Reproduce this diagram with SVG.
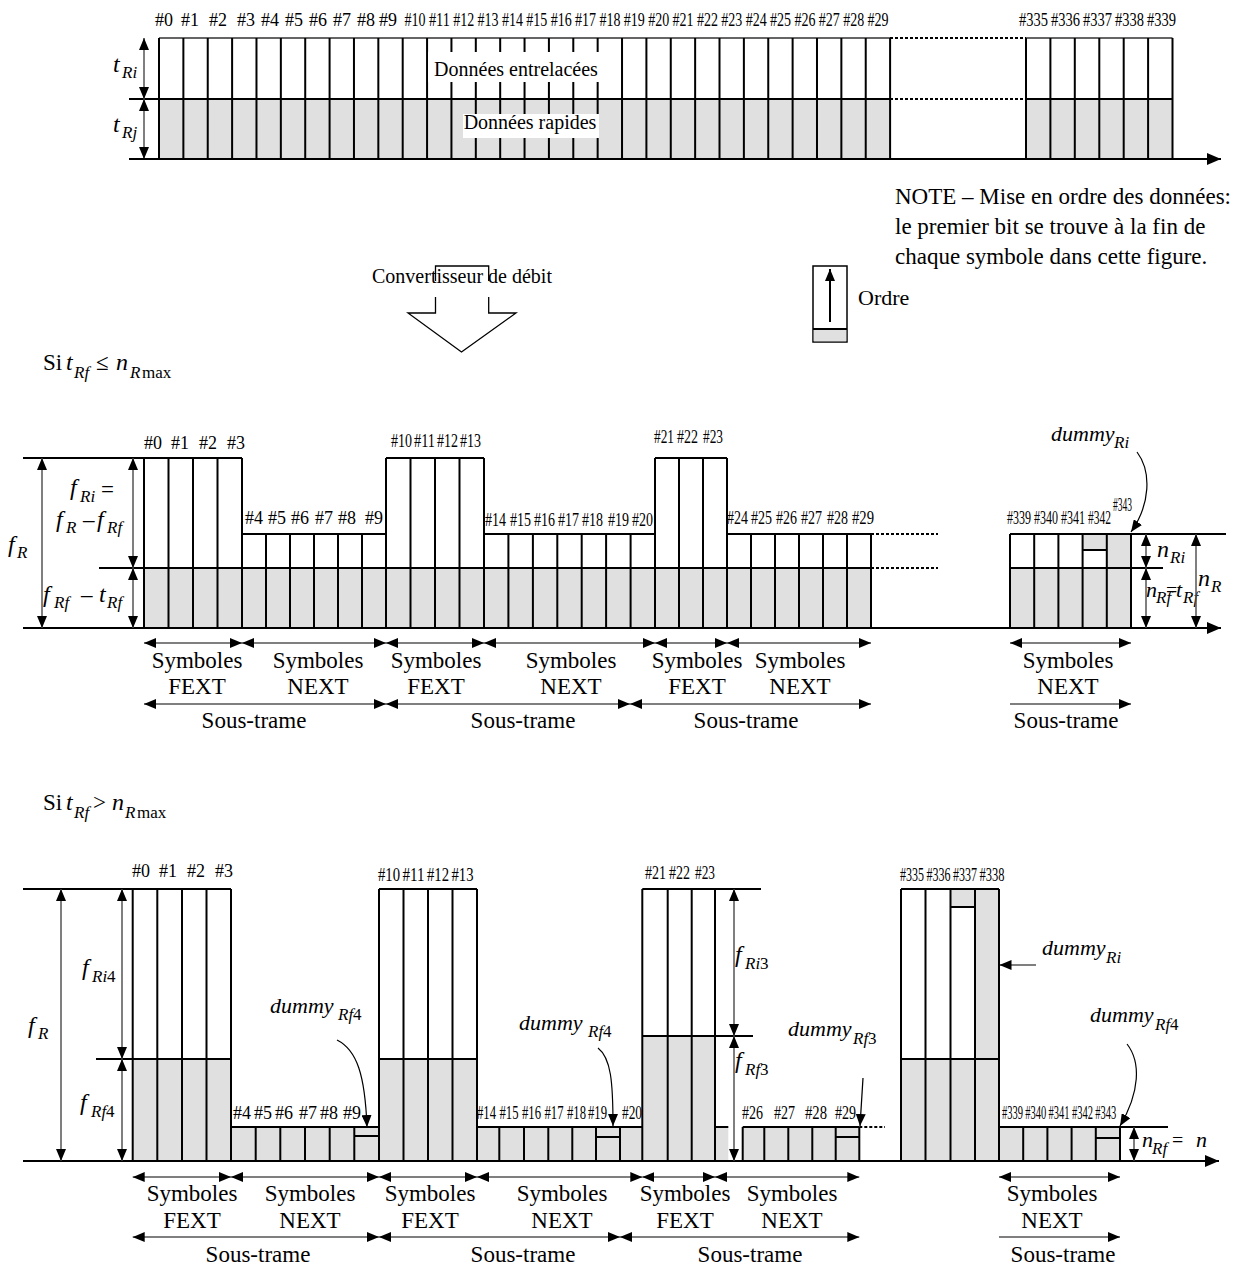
<svg xmlns="http://www.w3.org/2000/svg" width="1253" height="1269" viewBox="0 0 1253 1269">
<defs>
<style>
text{font-family:"Liberation Serif","Times New Roman",serif;fill:#000}
.n18{font-size:18px}
.n20{font-size:20px}
.n23{font-size:23px}
.i24{font-size:24px;font-style:italic}
.i22{font-size:22px;font-style:italic}
.i17{font-size:17px;font-style:italic}
.n17{font-size:17px}
.m{text-anchor:middle}
.col{stroke:#000;stroke-width:2;fill:none}
.top{stroke:#333;stroke-width:1.4;fill:none}
.dim{stroke:#555;stroke-width:1.5;fill:none}
.dot{stroke:#000;stroke-width:2;stroke-dasharray:3 2;fill:none}
.cv{stroke:#000;stroke-width:1.2;fill:none}
.g{fill:#e0e0e0}
</style>
<marker id="a" viewBox="0 0 12 10" refX="12" refY="5" markerWidth="12" markerHeight="10" markerUnits="userSpaceOnUse" orient="auto-start-reverse"><path d="M0,0L12,5L0,10Z" fill="#000"/></marker>
<marker id="A" viewBox="0 0 14 12" refX="14" refY="6" markerWidth="14" markerHeight="12" markerUnits="userSpaceOnUse" orient="auto-start-reverse"><path d="M0,0L14,6L0,12Z" fill="#000"/></marker>
</defs>
<rect width="1253" height="1269" fill="#fff"/>

<!-- ================= TOP SECTION ================= -->
<g id="top-frame">
<rect class="g" x="159" y="99" width="731" height="60"/>
<rect class="g" x="1026" y="99" width="146.5" height="60"/>
<path class="top" d="M159,38H890M1026,38H1172.5"/>
<path class="col" d="M129,99H890M1026,99H1172.5"/>
<path class="dot" d="M890,38H1026M890,99H1026"/>
<path class="col" d="M159,38V159M183.37,38V159M207.74,38V159M232.11,38V159M256.48,38V159M280.85,38V159M305.22,38V159M329.59,38V159M353.96,38V159M378.33,38V159M402.7,38V159M427.07,38V159M451.44,38V159M475.81,38V159M500.18,38V159M524.55,38V159M548.92,38V159M573.29,38V159M597.66,38V159M622.03,38V159M646.4,38V159M670.77,38V159M695.14,38V159M719.51,38V159M743.88,38V159M768.25,38V159M792.62,38V159M816.99,38V159M841.36,38V159M865.73,38V159M890.1,38V159"/>
<path class="col" d="M1026,38V159M1050.4,38V159M1074.8,38V159M1099.3,38V159M1123.7,38V159M1148.1,38V159M1172.5,38V159"/>
<rect x="428" y="52" width="172" height="30" fill="#fff"/>
<rect x="463" y="114" width="136" height="24" fill="#fff"/>
<text class="n20 m" x="516" y="76">Données entrelacées</text>
<text class="n20 m" x="530" y="129">Données rapides</text>
</g>
<g id="top-labels" class="n18">
<text class="m" x="164" y="26">#0</text><text class="m" x="190" y="26">#1</text><text class="m" x="218" y="26">#2</text><text class="m" x="246" y="26">#3</text><text class="m" x="270" y="26">#4</text><text class="m" x="294" y="26">#5</text><text class="m" x="318" y="26">#6</text><text class="m" x="342" y="26">#7</text><text class="m" x="366" y="26">#8</text><text class="m" x="388" y="26">#9</text>
<text x="404.5" y="26" textLength="21" lengthAdjust="spacingAndGlyphs">#10</text>
<text x="428.9" y="26" textLength="21" lengthAdjust="spacingAndGlyphs">#11</text>
<text x="453.2" y="26" textLength="21" lengthAdjust="spacingAndGlyphs">#12</text>
<text x="477.6" y="26" textLength="21" lengthAdjust="spacingAndGlyphs">#13</text>
<text x="502" y="26" textLength="21" lengthAdjust="spacingAndGlyphs">#14</text>
<text x="526.3" y="26" textLength="21" lengthAdjust="spacingAndGlyphs">#15</text>
<text x="550.7" y="26" textLength="21" lengthAdjust="spacingAndGlyphs">#16</text>
<text x="575.1" y="26" textLength="21" lengthAdjust="spacingAndGlyphs">#17</text>
<text x="599.5" y="26" textLength="21" lengthAdjust="spacingAndGlyphs">#18</text>
<text x="623.8" y="26" textLength="21" lengthAdjust="spacingAndGlyphs">#19</text>
<text x="648.2" y="26" textLength="21" lengthAdjust="spacingAndGlyphs">#20</text>
<text x="672.6" y="26" textLength="21" lengthAdjust="spacingAndGlyphs">#21</text>
<text x="696.9" y="26" textLength="21" lengthAdjust="spacingAndGlyphs">#22</text>
<text x="721.3" y="26" textLength="21" lengthAdjust="spacingAndGlyphs">#23</text>
<text x="745.7" y="26" textLength="21" lengthAdjust="spacingAndGlyphs">#24</text>
<text x="770" y="26" textLength="21" lengthAdjust="spacingAndGlyphs">#25</text>
<text x="794.4" y="26" textLength="21" lengthAdjust="spacingAndGlyphs">#26</text>
<text x="818.8" y="26" textLength="21" lengthAdjust="spacingAndGlyphs">#27</text>
<text x="843.2" y="26" textLength="21" lengthAdjust="spacingAndGlyphs">#28</text>
<text x="867.5" y="26" textLength="21" lengthAdjust="spacingAndGlyphs">#29</text>
<text x="1019" y="26" textLength="29" lengthAdjust="spacingAndGlyphs">#335</text>
<text x="1051" y="26" textLength="29" lengthAdjust="spacingAndGlyphs">#336</text>
<text x="1083" y="26" textLength="29" lengthAdjust="spacingAndGlyphs">#337</text>
<text x="1115" y="26" textLength="29" lengthAdjust="spacingAndGlyphs">#338</text>
<text x="1147" y="26" textLength="29" lengthAdjust="spacingAndGlyphs">#339</text>
</g>
<g id="top-dims">
<text class="i24" x="113" y="72">t</text><text class="i17" x="122" y="78">Ri</text>
<text class="i24" x="113" y="132">t</text><text class="i17" x="122" y="138">Rj</text>
</g>

<!-- ================= MIDDLE NOTE / CONVERTER ================= -->
<g id="note">
<text class="n23" x="895" y="204">NOTE – Mise en ordre des données:</text>
<text class="n23" x="895" y="234">le premier bit se trouve à la fin de</text>
<text class="n23" x="895" y="264">chaque symbole dans cette figure.</text>
</g>
<g id="ordre">
<rect x="813" y="266" width="34" height="76" fill="#fff" stroke="#000" stroke-width="1.5"/>
<rect class="g" x="813.7" y="329" width="32.6" height="12.3"/>
<path class="col" d="M813,329H847"/>
<path d="M830,322V269" stroke="#000" stroke-width="2" marker-end="url(#a)"/>
<text class="n23" x="858" y="305" style="font-size:22px">Ordre</text>
</g>
<g id="converter">
<path d="M435.5,281V266H488.7V281M435.5,297V313H408L461.5,352L516,313H488.7V297" fill="none" stroke="#000" stroke-width="1.3"/>
<text class="n20 m" x="462" y="283">Convertisseur de débit</text>
</g>

<!-- ================= SECTION 2 ================= -->
<g id="cond1">
<text class="n23" x="43" y="370">Si</text>
<text class="i24" x="66" y="370">t</text><text class="i17" x="74" y="378">Rf</text>
<text class="n23" x="96" y="370">≤</text>
<text class="i24" x="116" y="370">n</text><text class="i17" x="130" y="378">R</text><text class="n17" x="142" y="378">max</text>
</g>
<g id="s2-blocks">
<rect class="g" x="144" y="568" width="727" height="60"/>
<rect class="g" x="1010" y="568" width="121" height="60"/>
<rect class="g" x="1082.6" y="534" width="24.2" height="16"/>
<rect class="g" x="1106.8" y="534" width="24.2" height="34"/>
<path class="col" d="M144,458V628M168.5,458V628M193,458V628M217.5,458V628M242,458V628M386,458V628M410.5,458V628M435,458V628M459.5,458V628M484,458V628M655,458V628M679,458V628M703,458V628M727,458V628"/>
<path class="col" d="M266,534V628M290,534V628M314,534V628M338,534V628M362,534V628M508.4,534V628M532.9,534V628M557.3,534V628M581.7,534V628M606.1,534V628M630.6,534V628M751,534V628M775,534V628M799,534V628M823,534V628M847,534V628M871,534V628M1010,534V628M1034.2,534V628M1058.4,534V628M1082.6,534V628M1106.8,534V628M1131,534V628"/>
<path class="col" d="M23,458H242M386,458H484M655,458H727M242,534H386M484,534H655M727,534H871M1010,534H1226M99,568H871M1010,568H1163M1082.6,550H1106.8"/>
<path class="dot" d="M871,534H938M871,568H938"/>
<path class="col" d="M23,628H1221" marker-end="url(#A)"/>
</g>
<g id="s2-labels" class="n18">
<text class="m" x="153" y="449">#0</text><text class="m" x="180" y="449">#1</text><text class="m" x="208" y="449">#2</text><text class="m" x="236" y="449">#3</text>
<text class="m" x="254" y="524">#4</text><text class="m" x="277" y="524">#5</text><text class="m" x="300" y="524">#6</text><text class="m" x="324" y="524">#7</text><text class="m" x="347" y="524">#8</text><text class="m" x="374" y="524">#9</text>
<text x="391" y="447" textLength="21" lengthAdjust="spacingAndGlyphs">#10</text>
<text x="414" y="447" textLength="21" lengthAdjust="spacingAndGlyphs">#11</text>
<text x="437" y="447" textLength="21" lengthAdjust="spacingAndGlyphs">#12</text>
<text x="460" y="447" textLength="21" lengthAdjust="spacingAndGlyphs">#13</text>
<text x="485" y="526" textLength="21" lengthAdjust="spacingAndGlyphs">#14</text>
<text x="510" y="526" textLength="21" lengthAdjust="spacingAndGlyphs">#15</text>
<text x="534" y="526" textLength="21" lengthAdjust="spacingAndGlyphs">#16</text>
<text x="558" y="526" textLength="21" lengthAdjust="spacingAndGlyphs">#17</text>
<text x="582" y="526" textLength="21" lengthAdjust="spacingAndGlyphs">#18</text>
<text x="608" y="526" textLength="21" lengthAdjust="spacingAndGlyphs">#19</text>
<text x="632" y="526" textLength="21" lengthAdjust="spacingAndGlyphs">#20</text>
<text x="654" y="443" textLength="20" lengthAdjust="spacingAndGlyphs">#21</text>
<text x="677" y="443" textLength="21" lengthAdjust="spacingAndGlyphs">#22</text>
<text x="703" y="443" textLength="20" lengthAdjust="spacingAndGlyphs">#23</text>
<text x="727" y="524" textLength="21" lengthAdjust="spacingAndGlyphs">#24</text>
<text x="751" y="524" textLength="21" lengthAdjust="spacingAndGlyphs">#25</text>
<text x="776" y="524" textLength="21" lengthAdjust="spacingAndGlyphs">#26</text>
<text x="801" y="524" textLength="21" lengthAdjust="spacingAndGlyphs">#27</text>
<text x="827" y="524" textLength="21" lengthAdjust="spacingAndGlyphs">#28</text>
<text x="852" y="524" textLength="22" lengthAdjust="spacingAndGlyphs">#29</text>
<text x="1007" y="524" textLength="24" lengthAdjust="spacingAndGlyphs">#339</text>
<text x="1034" y="524" textLength="24" lengthAdjust="spacingAndGlyphs">#340</text>
<text x="1061" y="524" textLength="24" lengthAdjust="spacingAndGlyphs">#341</text>
<text x="1088" y="524" textLength="23" lengthAdjust="spacingAndGlyphs">#342</text>
<text x="1113" y="511" textLength="19" lengthAdjust="spacingAndGlyphs">#343</text>
</g>
<g id="s2-dims">
<text class="i24" x="8" y="552">f</text><text class="i17" x="17" y="558">R</text>
<text class="i24" x="70" y="495">f</text><text class="i17" x="80" y="502">Ri</text><text class="n23" x="101" y="497">=</text>
<text class="i24" x="56" y="527">f</text><text class="i17" x="66" y="533">R</text><text class="n23" x="83" y="527">–</text><text class="i24" x="97" y="527">f</text><text class="i17" x="107" y="533">Rf</text>
<text class="i24" x="43" y="602">f</text><text class="i17" x="54" y="608">Rf</text><text class="n23" x="81" y="602">–</text><text class="i24" x="99" y="602">t</text><text class="i17" x="107" y="608">Rf</text>
<text class="i22" x="1051" y="441">dummy</text><text class="i17" x="1114" y="448">Ri</text>
<text class="i24" x="1157" y="557">n</text><text class="i17" x="1170" y="563">Ri</text>
<text class="i24" x="1198" y="586">n</text><text class="i17" x="1211" y="592">R</text>
<text class="i22" x="1146" y="597">n</text><text class="i17" x="1156" y="603">Rf</text><text class="n20" x="1166" y="597">=</text><text class="i22" x="1176" y="597">t</text><text class="i17" x="1183" y="603">Rf</text>
</g>
<g id="s2-connectors">
<path class="dim" d="M42,458V628" marker-start="url(#a)" marker-end="url(#a)"/>
<path class="dim" d="M133,458V568" marker-start="url(#a)" marker-end="url(#a)"/>
<path class="dim" d="M133,568V628" marker-start="url(#a)" marker-end="url(#a)"/>
<path class="dim" d="M1146,534V568" marker-start="url(#a)" marker-end="url(#a)"/>
<path class="dim" d="M1146,568V628" marker-start="url(#a)" marker-end="url(#a)"/>
<path class="dim" d="M1196,534V628" marker-start="url(#a)" marker-end="url(#a)"/>
<path class="cv" d="M1137,452C1152,472 1150,505 1131,532" marker-end="url(#a)"/>
<path class="dim" d="M144,643H242" marker-start="url(#a)" marker-end="url(#a)"/>
<path class="dim" d="M242,643H386" marker-start="url(#a)" marker-end="url(#a)"/>
<path class="dim" d="M386,643H484" marker-start="url(#a)" marker-end="url(#a)"/>
<path class="dim" d="M484,643H655" marker-start="url(#a)" marker-end="url(#a)"/>
<path class="dim" d="M655,643H727" marker-start="url(#a)" marker-end="url(#a)"/>
<path class="dim" d="M727,643H871" marker-start="url(#a)" marker-end="url(#a)"/>
<path class="dim" d="M1010,643H1131" marker-start="url(#a)" marker-end="url(#a)"/>
<path class="dim" d="M144,704H386" marker-start="url(#a)" marker-end="url(#a)"/>
<path class="dim" d="M386,704H630" marker-start="url(#a)" marker-end="url(#a)"/>
<path class="dim" d="M630,704H871" marker-start="url(#a)" marker-end="url(#a)"/>
<path class="dim" d="M1010,704H1131" marker-end="url(#a)"/>
</g>
<g id="s2-captions" class="n23 m">
<text x="197" y="668">Symboles</text><text x="197" y="694">FEXT</text>
<text x="318" y="668">Symboles</text><text x="318" y="694">NEXT</text>
<text x="436" y="668">Symboles</text><text x="436" y="694">FEXT</text>
<text x="571" y="668">Symboles</text><text x="571" y="694">NEXT</text>
<text x="697" y="668">Symboles</text><text x="697" y="694">FEXT</text>
<text x="800" y="668">Symboles</text><text x="800" y="694">NEXT</text>
<text x="1068" y="668">Symboles</text><text x="1068" y="694">NEXT</text>
<text x="254" y="728">Sous-trame</text>
<text x="523" y="728">Sous-trame</text>
<text x="746" y="728">Sous-trame</text>
<text x="1066" y="728">Sous-trame</text>
</g>

<!-- ================= SECTION 3 ================= -->
<g id="cond2">
<text class="n23" x="43" y="810">Si</text>
<text class="i24" x="66" y="810">t</text><text class="i17" x="74" y="818">Rf</text>
<text class="n23" x="93" y="810">&gt;</text>
<text class="i24" x="112" y="810">n</text><text class="i17" x="125" y="818">R</text><text class="n17" x="137" y="818">max</text>
</g>
<g id="s3-blocks">
<rect class="g" x="132.7" y="1059" width="98.3" height="102"/>
<rect class="g" x="231" y="1127" width="148" height="34"/>
<rect class="g" x="379" y="1059" width="98" height="102"/>
<rect class="g" x="477" y="1127" width="165.3" height="34"/>
<rect class="g" x="642.3" y="1036" width="72.7" height="125"/>
<rect class="g" x="715" y="1127" width="13.3" height="34"/>
<rect class="g" x="742.7" y="1127" width="116.6" height="34"/>
<rect class="g" x="901" y="1059" width="98" height="102"/>
<rect class="g" x="950.5" y="889" width="24.5" height="18"/>
<rect class="g" x="975" y="889" width="24" height="170"/>
<rect class="g" x="999" y="1127" width="121" height="34"/>
<path class="col" d="M132.7,889V1161M157.3,889V1161M182,889V1161M206.5,889V1161M231,889V1161M379,889V1161M403.5,889V1161M428,889V1161M452.5,889V1161M477,889V1161M642.3,889V1161M667.7,889V1161M691.7,889V1161M715,889V1161M901,889V1161M925.5,889V1161M950.5,889V1161M975,889V1161M999,889V1161"/>
<path class="col" d="M255.7,1127V1161M280.3,1127V1161M305,1127V1161M329.7,1127V1161M354.3,1127V1161M499.3,1127V1161M524,1127V1161M548.3,1127V1161M572.3,1127V1161M596,1127V1161M620,1127V1161M742.7,1127V1161M764.3,1127V1161M788.3,1127V1161M812.3,1127V1161M835.7,1127V1161M859.3,1127V1161M1023.2,1127V1161M1047.4,1127V1161M1071.6,1127V1161M1095.8,1127V1161M1120,1127V1161"/>
<path class="col" d="M23,889H231M379,889H477M642.3,889H761M901,889H999M96,1059H231M379,1059H477M901,1059H999M642.3,1036H753M231,1127H379M477,1127H642.3M715,1127H728.3M742.7,1127H859.3M999,1127H1168M354.3,1136H379M596,1137H620M835.7,1137H859.3M1095.8,1138H1120M950.5,907H975"/>
<path class="dot" d="M859.3,1127H885"/>
<path class="col" d="M23,1161H1219" marker-end="url(#A)"/>
</g>
<g id="s3-labels" class="n18">
<text class="m" x="141" y="877">#0</text><text class="m" x="168" y="877">#1</text><text class="m" x="196" y="877">#2</text><text class="m" x="224" y="877">#3</text>
<text class="m" x="242" y="1119">#4</text><text class="m" x="263" y="1119">#5</text><text class="m" x="284" y="1119">#6</text><text class="m" x="308" y="1119">#7</text><text class="m" x="329" y="1119">#8</text><text class="m" x="352" y="1119">#9</text>
<text x="378" y="881" textLength="22" lengthAdjust="spacingAndGlyphs">#10</text>
<text x="402.5" y="881" textLength="22" lengthAdjust="spacingAndGlyphs">#11</text>
<text x="427" y="881" textLength="22" lengthAdjust="spacingAndGlyphs">#12</text>
<text x="451.5" y="881" textLength="22" lengthAdjust="spacingAndGlyphs">#13</text>
<text x="477" y="1119" textLength="19" lengthAdjust="spacingAndGlyphs">#14</text>
<text x="499.5" y="1119" textLength="19" lengthAdjust="spacingAndGlyphs">#15</text>
<text x="522" y="1119" textLength="19" lengthAdjust="spacingAndGlyphs">#16</text>
<text x="544.5" y="1119" textLength="19" lengthAdjust="spacingAndGlyphs">#17</text>
<text x="567" y="1119" textLength="19" lengthAdjust="spacingAndGlyphs">#18</text>
<text x="588" y="1119" textLength="19" lengthAdjust="spacingAndGlyphs">#19</text>
<text x="622" y="1119" textLength="20" lengthAdjust="spacingAndGlyphs">#20</text>
<text x="645" y="879" textLength="21" lengthAdjust="spacingAndGlyphs">#21</text>
<text x="669" y="879" textLength="21" lengthAdjust="spacingAndGlyphs">#22</text>
<text x="695" y="879" textLength="20" lengthAdjust="spacingAndGlyphs">#23</text>
<text x="742" y="1119" textLength="21" lengthAdjust="spacingAndGlyphs">#26</text>
<text x="774" y="1119" textLength="21" lengthAdjust="spacingAndGlyphs">#27</text>
<text x="805" y="1119" textLength="22" lengthAdjust="spacingAndGlyphs">#28</text>
<text x="835" y="1119" textLength="21" lengthAdjust="spacingAndGlyphs">#29</text>
<text x="900" y="881" textLength="24" lengthAdjust="spacingAndGlyphs">#335</text>
<text x="926.5" y="881" textLength="24" lengthAdjust="spacingAndGlyphs">#336</text>
<text x="953" y="881" textLength="24" lengthAdjust="spacingAndGlyphs">#337</text>
<text x="979.5" y="881" textLength="25" lengthAdjust="spacingAndGlyphs">#338</text>
<text x="1002" y="1119" textLength="21" lengthAdjust="spacingAndGlyphs">#339</text>
<text x="1025.3" y="1119" textLength="21" lengthAdjust="spacingAndGlyphs">#340</text>
<text x="1048.6" y="1119" textLength="21" lengthAdjust="spacingAndGlyphs">#341</text>
<text x="1071.9" y="1119" textLength="21" lengthAdjust="spacingAndGlyphs">#342</text>
<text x="1095.2" y="1119" textLength="21" lengthAdjust="spacingAndGlyphs">#343</text>
</g>
<g id="s3-dims">
<text class="i24" x="82" y="975">f</text><text class="i17" x="92" y="982">Ri</text><text class="n17" x="107" y="982">4</text>
<text class="i24" x="28" y="1033">f</text><text class="i17" x="38" y="1039">R</text>
<text class="i24" x="80" y="1110">f</text><text class="i17" x="91" y="1117">Rf</text><text class="n17" x="106" y="1117">4</text>
<text class="i22" x="270" y="1013">dummy</text><text class="i17" x="338" y="1020">Rf</text><text class="n17" x="353" y="1020">4</text>
<text class="i22" x="519" y="1030">dummy</text><text class="i17" x="588" y="1037">Rf</text><text class="n17" x="603" y="1037">4</text>
<text class="i22" x="788" y="1036">dummy</text><text class="i17" x="853" y="1044">Rf</text><text class="n17" x="868" y="1044">3</text>
<text class="i24" x="735" y="962">f</text><text class="i17" x="745" y="969">Ri</text><text class="n17" x="760" y="969">3</text>
<text class="i24" x="735" y="1068">f</text><text class="i17" x="745" y="1075">Rf</text><text class="n17" x="760" y="1075">3</text>
<text class="i22" x="1042" y="955">dummy</text><text class="i17" x="1106" y="963">Ri</text>
<text class="i22" x="1090" y="1022">dummy</text><text class="i17" x="1155" y="1030">Rf</text><text class="n17" x="1170" y="1030">4</text>
<text class="i22" x="1142" y="1147">n</text><text class="i17" x="1152" y="1154">Rf</text><text class="n20" x="1172" y="1147">=</text><text class="i22" x="1196" y="1147">n</text>
</g>
<g id="s3-connectors">
<path class="dim" d="M61,889V1161" marker-start="url(#a)" marker-end="url(#a)"/>
<path class="dim" d="M122,889V1059" marker-start="url(#a)" marker-end="url(#a)"/>
<path class="dim" d="M122,1059V1161" marker-start="url(#a)" marker-end="url(#a)"/>
<path class="dim" d="M734,889V1036" marker-start="url(#a)" marker-end="url(#a)"/>
<path class="dim" d="M734,1036V1161" marker-start="url(#a)" marker-end="url(#a)"/>
<path class="dim" d="M1134,1127V1161" marker-start="url(#a)" marker-end="url(#a)"/>
<path class="cv" d="M337,1040C357,1050 365,1075 367,1127" marker-end="url(#a)"/>
<path class="cv" d="M598,1048C611,1058 613,1082 613,1126" marker-end="url(#a)"/>
<path class="cv" d="M863,1078L860,1126" marker-end="url(#a)"/>
<path class="cv" d="M1036,965H999.5" marker-end="url(#a)"/>
<path class="cv" d="M1127,1044C1141,1062 1140,1092 1120,1126" marker-end="url(#a)"/>
<path class="dim" d="M132.7,1177H231" marker-start="url(#a)" marker-end="url(#a)"/>
<path class="dim" d="M231,1177H379" marker-start="url(#a)" marker-end="url(#a)"/>
<path class="dim" d="M379,1177H477" marker-start="url(#a)" marker-end="url(#a)"/>
<path class="dim" d="M477,1177H642.3" marker-start="url(#a)" marker-end="url(#a)"/>
<path class="dim" d="M642.3,1177H715" marker-start="url(#a)" marker-end="url(#a)"/>
<path class="dim" d="M715,1177H859.3" marker-start="url(#a)" marker-end="url(#a)"/>
<path class="dim" d="M999,1177H1120" marker-start="url(#a)" marker-end="url(#a)"/>
<path class="dim" d="M132.7,1237H379" marker-start="url(#a)" marker-end="url(#a)"/>
<path class="dim" d="M379,1237H620" marker-start="url(#a)" marker-end="url(#a)"/>
<path class="dim" d="M620,1237H859.3" marker-start="url(#a)" marker-end="url(#a)"/>
<path class="dim" d="M999,1237H1120" marker-end="url(#a)"/>
</g>
<g id="s3-captions" class="n23 m">
<text x="192" y="1201">Symboles</text><text x="192" y="1228">FEXT</text>
<text x="310" y="1201">Symboles</text><text x="310" y="1228">NEXT</text>
<text x="430" y="1201">Symboles</text><text x="430" y="1228">FEXT</text>
<text x="562" y="1201">Symboles</text><text x="562" y="1228">NEXT</text>
<text x="685" y="1201">Symboles</text><text x="685" y="1228">FEXT</text>
<text x="792" y="1201">Symboles</text><text x="792" y="1228">NEXT</text>
<text x="1052" y="1201">Symboles</text><text x="1052" y="1228">NEXT</text>
<text x="258" y="1262">Sous-trame</text>
<text x="523" y="1262">Sous-trame</text>
<text x="750" y="1262">Sous-trame</text>
<text x="1063" y="1262">Sous-trame</text>
</g>
<g id="top-connectors">
<path class="dim" d="M144,38V99" marker-start="url(#a)" marker-end="url(#a)"/>
<path class="dim" d="M144,99V159" marker-start="url(#a)" marker-end="url(#a)"/>
<path class="col" d="M129,159H1221" marker-end="url(#A)"/>
</g>
</svg>
